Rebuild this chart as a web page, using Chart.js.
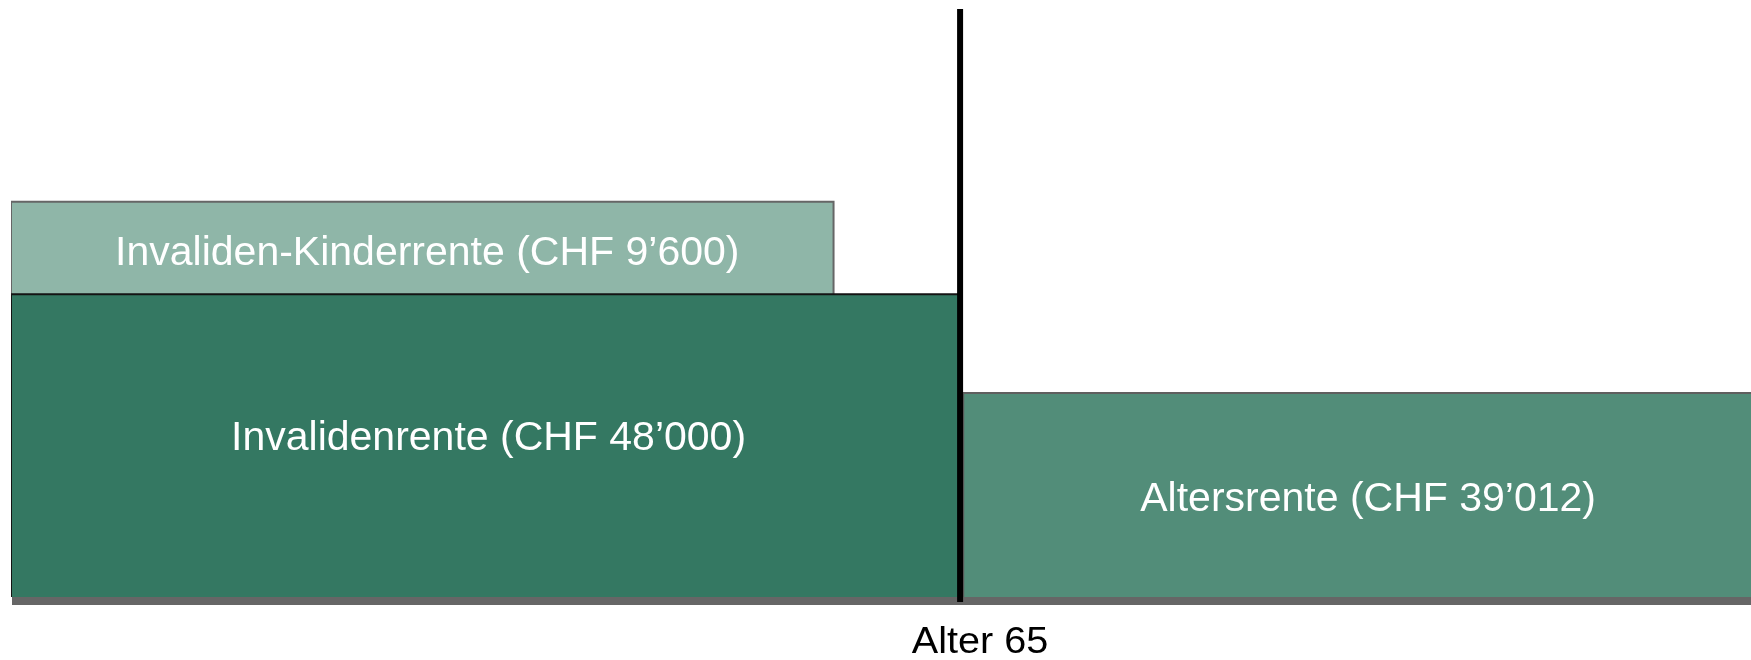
<!DOCTYPE html>
<html><head><meta charset="utf-8">
<script src="https://cdn.jsdelivr.net/npm/chart.js@4/dist/chart.umd.min.js"></script>
<style>html,body{margin:0;padding:0;background:#fff}canvas{display:block}</style>
</head><body>
<canvas id="c" width="1751" height="660"></canvas>
<script>
// ---- data ----
const categories = ['Invalidenrente', 'Invaliden-Kinderrente', 'Altersrente'];
const amountsCHF = [48000, 9600, 39012];
// bar heights in the picture's (schematic) vertical units, 0..100
const barBase = [0, 51.5, 0];
const barTop = [51.5, 67.2, 34.7];
// horizontal extent in years of age
const ageFrom = [35, 35, 65.1];
const ageTo = [65, 61, 95];
const retirementAge = 65;
const axisLabel = 'Alter 65';

// ---- styles ----
const fillColors = ['#347862', '#8fb6a8', '#528d79'];
const lineColors = ['#141414', '#666666', '#5f5f5f'];
const lineWidths = [2, 2, 2];
const labelShift = [{dx: 3, dy: -10}, {dx: 5, dy: 2}, {dx: 11, dy: 1}];

function fmt(v) { return String(v).replace(/\B(?=(\d{3})+(?!\d))/g, '\u2019'); }
function rect(i) {
  return [
    {x: ageFrom[i], y: barBase[i]}, {x: ageFrom[i], y: barTop[i]},
    {x: ageTo[i], y: barTop[i]}, {x: ageTo[i], y: barBase[i]}
  ];
}

const datasets = [{
  label: axisLabel,
  data: [{x: retirementAge, y: -0.85}, {x: retirementAge, y: 100}],
  borderColor: '#000', borderWidth: 6, borderCapStyle: 'butt',
  pointRadius: 0, fill: false, clip: false, tension: 0
}];
[0, 1, 2].forEach(i => {
  datasets.push({
    label: categories[i],
    data: rect(i),
    borderColor: lineColors[i], borderWidth: lineWidths[i],
    backgroundColor: fillColors[i],
    borderJoinStyle: 'miter',
    pointRadius: 0, tension: 0,
    fill: barBase[i] === 0 ? 'origin' : {value: barBase[i]}
  });
});

const baseBandPlugin = {
  id: 'baseBand',
  beforeDatasetsDraw(chart) {
    const {ctx, scales: {x, y}} = chart;
    ctx.save();
    ctx.fillStyle = '#666666';
    ctx.fillRect(x.left + 1, y.getPixelForValue(0), chart.width - x.left, 8);
    ctx.restore();
  }
};

const labelPlugin = {
  id: 'barLabels',
  afterDatasetsDraw(chart) {
    const {ctx, scales: {x, y}} = chart;
    ctx.save();
    ctx.fillStyle = '#ffffff';
    ctx.font = '41px "Liberation Sans", Arial, sans-serif';
    ctx.textAlign = 'center';
    ctx.textBaseline = 'alphabetic';
    categories.forEach((c, i) => {
      const x0 = x.getPixelForValue(ageFrom[i]);
      const x1 = x.getPixelForValue(Math.min(ageTo[i], x.max));
      const y0 = y.getPixelForValue(barBase[i]);
      const y1 = y.getPixelForValue(barTop[i]);
      const cx = (x0 + x1) / 2 + labelShift[i].dx;
      const cy = (y0 + y1) / 2 + labelShift[i].dy;
      ctx.fillText(c + ' (CHF ' + fmt(amountsCHF[i]) + ')', cx, cy + 0.358 * 41);
    });
    ctx.fillStyle = '#000000';
    ctx.font = '36px "Liberation Sans", Arial, sans-serif';
    const ax = x.getPixelForValue(retirementAge) + 20;
    const ay = y.getPixelForValue(0) + 56;
    ctx.translate(ax, ay);
    ctx.scale(1.1, 1);
    ctx.fillText(axisLabel, 0, 0);
    ctx.restore();
  }
};

new Chart(document.getElementById('c'), {
  type: 'line',
  data: {datasets},
  plugins: [baseBandPlugin, labelPlugin],
  options: {
    responsive: false,
    animation: false,
    devicePixelRatio: 1,
    layout: {padding: {left: 11, right: 0, top: 9, bottom: 63}},
    plugins: {legend: {display: false}, tooltip: {enabled: false}},
    scales: {
      x: {
        type: 'linear', min: 35, max: 90,
        grid: {display: false, drawTicks: false},
        ticks: {display: false},
        border: {display: false}
      },
      y: {
        type: 'linear', min: 0, max: 100, display: false
      }
    }
  }
});
</script>
</body></html>
